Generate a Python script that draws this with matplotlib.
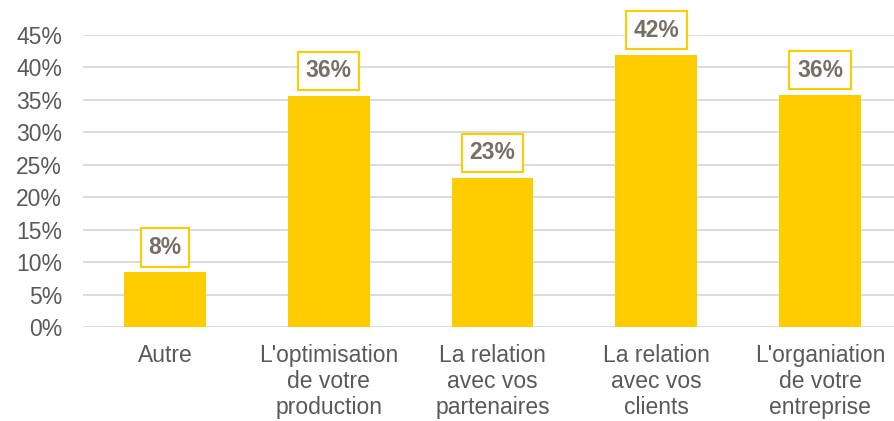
import matplotlib
matplotlib.use("Agg")
import matplotlib.pyplot as plt
from matplotlib.ticker import FuncFormatter, MultipleLocator

categories = ["Autre", "L'optimisation\nde votre\nproduction", "La relation\navec vos\npartenaires",
              "La relation\navec vos\nclients", "L'organiation\nde votre\nentreprise"]
values = [0.084, 0.356, 0.23, 0.419, 0.357]

plt.rcParams['font.family'] = ['Liberation Sans', 'DejaVu Sans']

W, H = 895, 421
fig = plt.figure(figsize=(W / 100, H / 100), dpi=100)
ax = fig.add_axes([83 / W, (H - 327) / H, (895 - 83) / W, (327 - 35) / H])

yellow = "#FFCC00"
x = list(range(len(categories)))
bars = ax.bar(x, values, width=0.5, color=yellow, zorder=3)

ax.set_ylim(0, 0.45)
ax.set_xlim(-0.5008, 4.458)
ax.yaxis.set_major_locator(MultipleLocator(0.05))
ax.yaxis.set_major_formatter(FuncFormatter(lambda v, p: f"{round(v*100)}%"))
ax.grid(axis='y', color="#D9D9D9", linewidth=1.3, zorder=0)
for s in ax.spines.values():
    s.set_visible(False)
ax.tick_params(axis='both', length=0, labelsize=16.5, colors="#595959")
ax.tick_params(axis='y', pad=15)
ax.tick_params(axis='x', pad=12)
ax.set_xticks(x)
ax.set_xticklabels(categories, linespacing=1.17)

for xi, v in zip(x, values):
    ax.annotate(f"{round(v*100)}%", xy=(xi, v), xytext=(0, 18), textcoords='offset points',
                ha='center', va='center', fontsize=16.5, fontweight='bold', color="#776F65",
                bbox=dict(boxstyle='square,pad=0.33', fc='white', ec=yellow, lw=1.5),
                annotation_clip=False, zorder=4)

fig.savefig("out.png", dpi=100)
